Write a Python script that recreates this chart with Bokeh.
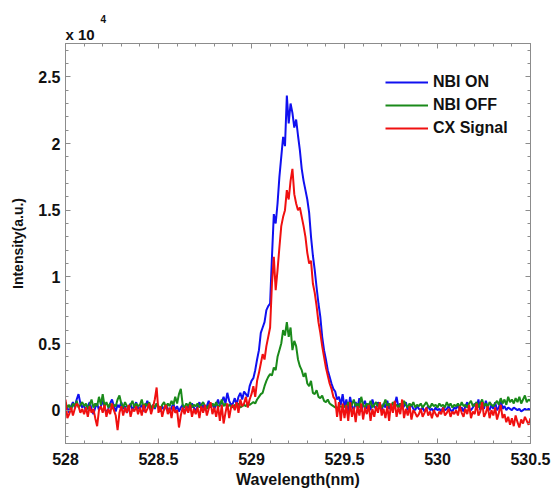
from bokeh.plotting import figure
from bokeh.models import (FixedTicker, LinearAxis, Range1d, Legend, LegendItem, Title,
                          CustomJSTickFormatter, ColumnDataSource)
from bokeh.embed import file_html
from bokeh.resources import INLINE

# Wavelength grid: 528.00 .. 530.50 nm, 0.01 nm per sample
wl_start = 528.0
wl_step = 0.01

# Intensities in units of 1e4 (a.u.)
nbi_on = [
    0.04, 0.02, -0.02, 0.03, 0.06, 0.02, 0.08, 0.12, 0.05, 0.02,
    0.04, -0.01, 0.03, 0.06, 0.01, -0.03, 0.02, 0.05, 0.00, 0.03,
    0.07, 0.02, -0.02, 0.01, 0.05, 0.08, 0.03, -0.01, 0.04, 0.02,
    0.06, 0.01, 0.03, -0.02, 0.02, 0.05, 0.00, 0.03, 0.06, 0.01,
    0.02, 0.04, -0.01, 0.03, 0.07, 0.02, 0.00, 0.04, 0.01, 0.05,
    0.02, -0.01, 0.03, 0.00, 0.04, 0.01, -0.02, 0.02, 0.05, 0.00,
    0.03, -0.01, 0.02, 0.04, -0.02, 0.01, 0.03, 0.00, 0.05, 0.02,
    -0.01, 0.03, 0.06, 0.01, 0.04, 0.00, 0.03, 0.07, 0.02, 0.05,
    0.01, 0.04, 0.08, 0.03, 0.06, 0.10, 0.05, 0.13, 0.07, 0.04,
    0.05, 0.09, 0.04, 0.10, 0.13, 0.08, 0.14, 0.12, 0.10, 0.18,
    0.22, 0.24, 0.30, 0.38, 0.45, 0.58, 0.62, 0.66, 0.75, 0.78,
    0.80, 1.15, 1.47, 1.40, 1.55, 1.75, 1.90, 2.05, 1.98, 2.36,
    2.15, 2.30, 2.23, 2.12, 2.18, 2.06, 1.95, 1.81, 1.72, 1.65,
    1.58, 1.48, 1.30, 1.16, 1.05, 0.92, 0.80, 0.70, 0.55, 0.45,
    0.38, 0.30, 0.25, 0.20, 0.16, 0.14, 0.08, 0.10, 0.04, 0.12,
    0.02, 0.08, -0.01, 0.10, 0.03, 0.00, 0.06, 0.02, 0.09, -0.01,
    0.04, 0.07, 0.01, 0.05, 0.00, 0.08, 0.03, 0.01, 0.06, 0.02,
    0.00, 0.05, 0.02, 0.07, 0.01, 0.03, 0.00, 0.04, 0.10, 0.02,
    0.05, 0.01, 0.03, 0.06, 0.00, 0.02, 0.04, 0.01, 0.00, 0.03,
    0.01, 0.00, 0.02, -0.01, 0.01, 0.03, 0.00, 0.01, -0.01, 0.02,
    0.00, 0.01, -0.01, 0.02, 0.00, 0.01, 0.03, 0.00, -0.01, 0.02,
    0.01, 0.04, 0.00, 0.02, -0.01, 0.03, 0.06, 0.01, 0.00, 0.02,
    0.05, 0.01, 0.08, 0.00, 0.03, 0.01, 0.07, 0.02, 0.00, 0.04,
    0.01, 0.06, 0.00, 0.02, 0.08, 0.01, 0.03, 0.00, 0.02, 0.01,
    0.00, 0.02, 0.01, 0.00, 0.01, -0.01, 0.00, 0.01, 0.00, 0.01,
    0.00,
]

nbi_off = [
    0.06, 0.02, 0.04, 0.00, 0.05, 0.03, 0.07, 0.02, 0.04, 0.06,
    0.03, 0.05, 0.01, 0.04, 0.08, 0.02, 0.05, 0.03, 0.10, 0.04,
    0.12, 0.03, 0.06, 0.02, 0.05, 0.01, 0.04, 0.03, 0.08, 0.11,
    0.05, 0.02, 0.06, 0.03, 0.01, 0.04, 0.07, 0.02, 0.05, 0.03,
    0.04, 0.08, 0.02, 0.05, 0.03, 0.06, 0.01, 0.04, 0.02, 0.05,
    0.03, 0.01, 0.04, 0.06, 0.02, 0.05, 0.03, 0.07, 0.04, 0.10,
    0.05, 0.12, 0.16, 0.04, 0.02, 0.05, 0.03, 0.06, 0.02, 0.04,
    0.03, 0.05, 0.02, 0.04, 0.06, 0.03, 0.01, 0.04, 0.02, 0.05,
    0.03, 0.06, 0.02, 0.04, 0.08, 0.03, 0.05, 0.02, 0.04, 0.03,
    0.02, 0.04, 0.03, 0.05, 0.02, 0.03, 0.04, 0.03, 0.05, 0.04,
    0.05, 0.06, 0.05, 0.08, 0.10, 0.12, 0.13, 0.18, 0.22, 0.25,
    0.27, 0.26, 0.32, 0.30, 0.40, 0.45, 0.50, 0.60, 0.56, 0.66,
    0.55, 0.62, 0.45, 0.52, 0.48, 0.38, 0.33, 0.30, 0.25, 0.28,
    0.20, 0.18, 0.22, 0.13, 0.12, 0.15, 0.10, 0.09, 0.11, 0.07,
    0.06, 0.08, 0.05, 0.04, 0.03, 0.02, 0.02, 0.02, 0.03, 0.02,
    0.03, 0.02, 0.06, 0.02, 0.04, 0.08, 0.03, 0.05, 0.02, 0.10,
    0.04, 0.02, 0.05, 0.03, 0.07, 0.02, 0.04, 0.06, 0.03, 0.05,
    0.02, 0.04, 0.08, 0.03, 0.05, 0.02, 0.06, 0.03, 0.04, 0.02,
    0.05, 0.03, 0.07, 0.04, 0.02, 0.05, 0.03, 0.06, 0.02, 0.04,
    0.03, 0.05, 0.02, 0.04, 0.06, 0.03, 0.02, 0.05, 0.03, 0.04,
    0.02, 0.05, 0.03, 0.04, 0.02, 0.06, 0.03, 0.05, 0.02, 0.04,
    0.03, 0.05, 0.02, 0.06, 0.03, 0.04, 0.02, 0.05, 0.07, 0.03,
    0.04, 0.06, 0.02, 0.05, 0.08, 0.03, 0.05, 0.02, 0.06, 0.04,
    0.03, 0.05, 0.07, 0.04, 0.09, 0.05, 0.08, 0.04, 0.10, 0.06,
    0.08, 0.05, 0.09, 0.06, 0.10, 0.05, 0.08, 0.11, 0.06, 0.08,
    0.07,
]

cx_signal = [
    0.08, -0.06, -0.03, 0.02, -0.04, 0.01, 0.05, 0.03, -0.02, 0.01,
    -0.03, 0.02, -0.05, 0.03, -0.02, 0.01, -0.06, -0.12, 0.00, 0.03,
    -0.02, 0.04, -0.05, 0.01, -0.03, 0.05, 0.00, -0.04, -0.15, -0.02,
    0.03, -0.04, 0.02, -0.02, 0.04, -0.05, 0.01, -0.01, 0.03, -0.03,
    0.02, -0.04, 0.04, -0.02, 0.01, 0.05, -0.03, 0.02, 0.08, 0.17,
    -0.02, 0.03, -0.05, 0.01, 0.04, -0.03, 0.02, -0.06, 0.03, -0.02,
    0.00, -0.13, -0.04, 0.02, -0.03, 0.03, -0.02, 0.04, -0.05, 0.01,
    -0.03, 0.02, -0.06, 0.03, -0.02, 0.04, -0.04, 0.01, 0.06, -0.03,
    0.02, -0.05, 0.03, -0.08, 0.04, -0.10, -0.02, 0.05, -0.06, 0.02,
    0.04, 0.00, 0.06, -0.02, 0.08, 0.03, 0.05, 0.10, 0.02, 0.08,
    0.12, 0.18, 0.10, 0.22, 0.28, 0.35, 0.42, 0.38, 0.48, 0.55,
    0.62, 0.95, 1.15, 0.90, 1.05, 1.22, 1.38, 1.45, 1.50, 1.65,
    1.58, 1.72, 1.81, 1.62, 1.55, 1.50, 1.52, 1.45, 1.38, 1.30,
    1.18, 1.10, 1.12, 0.95, 0.88, 0.78, 0.66, 0.58, 0.48, 0.40,
    0.32, 0.26, 0.20, 0.16, 0.10, 0.08, -0.05, 0.06, -0.08, 0.05,
    -0.06, 0.04, -0.08, 0.06, -0.05, 0.02, -0.09, 0.03, -0.04, 0.05,
    -0.07, 0.02, -0.03, 0.04, -0.08, 0.01, -0.05, 0.03, -0.02, 0.06,
    -0.04, 0.01, -0.06, 0.03, -0.08, 0.05, -0.02, 0.07, -0.05, 0.02,
    -0.03, 0.08, -0.06, 0.01, -0.04, 0.03, -0.07, 0.00, -0.02, -0.05,
    -0.03, 0.01, -0.05, -0.02, 0.02, -0.04, -0.01, -0.06, 0.00, -0.03,
    -0.05, -0.01, -0.03, 0.02, -0.04, -0.02, 0.01, -0.05, -0.01, -0.03,
    0.00, -0.04, 0.03, -0.02, -0.05, 0.01, -0.03, 0.04, -0.06, -0.01,
    -0.03, 0.05, -0.04, -0.01, 0.06, -0.05, -0.02, 0.03, -0.06, 0.00,
    -0.04, 0.02, -0.07, -0.02, 0.04, -0.06, -0.03, -0.09, -0.05, -0.11,
    -0.06, -0.12, -0.04, -0.09, -0.13, -0.07, -0.10, -0.05, -0.08, -0.11,
    -0.06,
]

series_names = ["NBI ON", "NBI OFF", "CX Signal"]
series_colors = ["#1010f0", "#1a8a1a", "#f01010"]

x_ticks = [528, 528.5, 529, 529.5, 530, 530.5]
y_ticks = [0, 0.5, 1, 1.5, 2, 2.5]

FONT = "Liberation Sans"
AXIS_GRAY = "#8c8c8c"
TXT = "#111111"


def wl(values):
    return [round(wl_start + i * wl_step, 2) for i in range(len(values))]


p = figure(width=553, height=490,
           x_range=Range1d(528, 530.5), y_range=Range1d(-0.25, 2.75),
           output_backend="svg", toolbar_location=None,
           min_border_left=65, min_border_right=23,
           min_border_top=43, min_border_bottom=47)
p.xgrid.visible = False
p.ygrid.visible = False
p.outline_line_color = AXIS_GRAY
p.outline_line_width = 1
p.background_fill_color = "white"
p.border_fill_color = "white"

x_minor = [round(528 + 0.1 * i, 1) for i in range(26)]
y_minor = [round(-0.2 + 0.1 * i, 1) for i in range(30)]
fmt = CustomJSTickFormatter(code="return String(Math.round(tick*10)/10);")
blank = CustomJSTickFormatter(code="return '';")


def style_axis(ax, labels=True):
    ax.axis_line_color = AXIS_GRAY
    ax.major_tick_line_color = AXIS_GRAY
    ax.minor_tick_line_color = AXIS_GRAY
    ax.major_tick_in = 5
    ax.major_tick_out = 0
    ax.minor_tick_in = 3
    ax.minor_tick_out = 0
    ax.major_label_text_font = FONT
    ax.major_label_text_font_style = "bold"
    ax.major_label_text_font_size = "16px"
    ax.major_label_text_color = TXT
    if not labels:
        ax.formatter = blank
        ax.major_label_standoff = 0
        ax.major_label_text_font_size = "0px"


xax = p.xaxis[0]
xax.ticker = FixedTicker(ticks=x_ticks, minor_ticks=x_minor)
xax.formatter = fmt
style_axis(xax)
xax.major_label_standoff = 9
xax.axis_label = "Wavelength(nm)"
xax.axis_label_text_font = FONT
xax.axis_label_text_font_style = "bold"
xax.axis_label_text_font_size = "16px"
xax.axis_label_text_color = TXT
xax.axis_label_standoff = 3

yax = p.yaxis[0]
yax.ticker = FixedTicker(ticks=y_ticks, minor_ticks=y_minor)
yax.formatter = fmt
style_axis(yax)
yax.major_label_standoff = 5
yax.axis_label = "Intensity(a.u.)"
yax.axis_label_text_font = FONT
yax.axis_label_text_font_style = "bold"
yax.axis_label_text_font_size = "14px"
yax.axis_label_text_color = TXT
yax.axis_label_standoff = 9

top = LinearAxis(ticker=FixedTicker(ticks=x_ticks, minor_ticks=x_minor))
style_axis(top, labels=False)
p.add_layout(top, "above")
right = LinearAxis(ticker=FixedTicker(ticks=y_ticks, minor_ticks=y_minor))
style_axis(right, labels=False)
p.add_layout(right, "right")

items = []
for name, vals, col in zip(series_names, [nbi_on, nbi_off, cx_signal], series_colors):
    src = ColumnDataSource(dict(x=wl(vals), y=vals))
    r = p.line("x", "y", source=src, line_color=col, line_width=2)
    items.append(LegendItem(label=name, renderers=[r]))

legend = Legend(items=items, location=(320, 305))
legend.border_line_color = None
legend.background_fill_alpha = 0
legend.label_text_font = FONT
legend.label_text_font_style = "bold"
legend.label_text_font_size = "16px"
legend.label_text_color = TXT
legend.glyph_width = 43
legend.glyph_height = 20
legend.label_height = 20
legend.spacing = 3
legend.label_standoff = 5
legend.padding = 10
legend.margin = 0
p.add_layout(legend)

# scale factor annotation above the frame: "x 10" with superscript "4"
p.add_layout(Title(text="x 10", align="left", offset=0, standoff=2,
                   text_font=FONT, text_font_style="bold",
                   text_font_size="15px", text_color=TXT), "above")
p.add_layout(Title(text="4", align="left", offset=35, standoff=0,
                   text_font=FONT, text_font_style="bold",
                   text_font_size="10px", text_color=TXT), "above")

open("out.html", "w").write(file_html(p, INLINE))
